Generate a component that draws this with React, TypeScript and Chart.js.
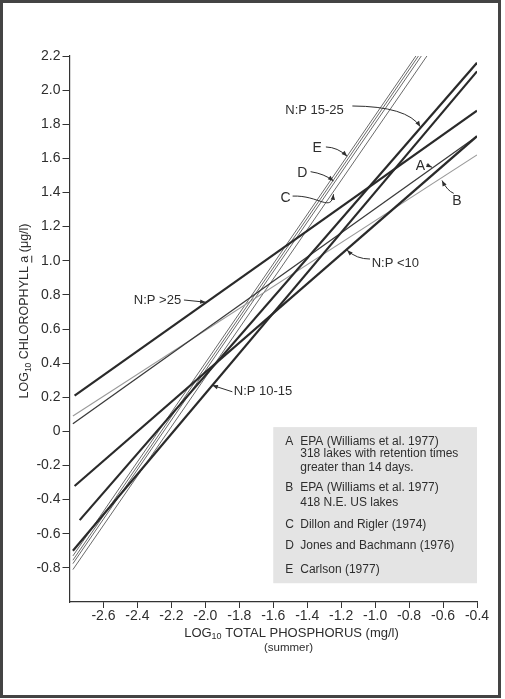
import React, { useEffect, useRef } from "react";
import { Chart, registerables } from "chart.js";

Chart.register(...registerables);

// ---- Axis ranges / ticks ----
const xMin = -2.8;
const xMax = -0.4;
const yMin = -1.0;
const yMax = 2.2;
const tickStep = 0.2;

// ---- Regression lines: [x, y] endpoints (log10 TP mg/l, log10 Chl a ug/l) ----
const npOver25: number[][] = [[-2.77, 0.21], [-0.4, 1.88]];
const np15to25: number[][] = [[-2.74, -0.52], [-0.4, 2.16]];
const np10to15: number[][] = [[-2.78, -0.7], [-0.4, 2.11]];
const npUnder10: number[][] = [[-2.77, -0.32], [-0.4, 1.73]];
const lineA: number[][] = [[-2.78, 0.045], [-0.4, 1.73]];
const lineB: number[][] = [[-2.78, 0.09], [-0.4, 1.62]];
const lineC: number[][] = [[-2.78, -0.81], [-0.695, 2.2]];
const lineD: number[][] = [[-2.78, -0.755], [-0.745, 2.2]];
const lineD2: number[][] = [[-2.78, -0.775], [-0.728, 2.2]];
const lineE: number[][] = [[-2.78, -0.73], [-0.76, 2.2]];

// ---- Annotation labels (data coords): label position and arrow path ----
const annLabels = ["N:P 15-25", "E", "D", "C", "A", "B", "N:P <10", "N:P >25", "N:P 10-15"];
const annLabelPos: number[][] = [
  [-1.357, 1.883],
  [-1.341, 1.659],
  [-1.429, 1.512],
  [-1.528, 1.366],
  [-0.733, 1.555],
  [-0.518, 1.352],
  [-0.881, 0.985],
  [-2.282, 0.77],
  [-1.66, 0.232],
];
const annPaths: number[][][] = [
  [[-1.134, 1.907], [-0.812, 1.905], [-0.734, 1.786]],
  [[-1.29, 1.667], [-1.22, 1.665], [-1.165, 1.612]],
  [[-1.38, 1.522], [-1.3, 1.51], [-1.245, 1.468]],
  [[-1.486, 1.379], [-1.33, 1.385], [-1.26, 1.28], [-1.245, 1.39]],
  [[-0.697, 1.562], [-0.665, 1.548]],
  [[-0.537, 1.395], [-0.575, 1.41], [-0.606, 1.47]],
  [[-1.03, 1.01], [-1.11, 1.01], [-1.165, 1.062]],
  [[-2.126, 0.77], [-1.998, 0.757]],
  [[-1.841, 0.232], [-1.959, 0.27]],
];

// ---- Key box ----
const keyBox: number[][] = [[-1.6, 0.025], [-0.4, -0.89]];
const keyLetters = ["A", "", "", "B", "", "C", "D", "E"];
const keyTexts = [
  "EPA (Williams et al. 1977)",
  "318 lakes with retention times",
  "greater than 14 days.",
  "EPA (Williams et al. 1977)",
  "418 N.E. US lakes",
  "Dillon and Rigler (1974)",
  "Jones and Bachmann (1976)",
  "Carlson (1977)",
];
const keyRowOffsets = [14.4, 26.7, 40.7, 61, 76, 97.7, 118.4, 142.7];

const FONT = '"Liberation Sans", Arial, sans-serif';
const INK = "#2e2e2e";

type Part = { t: string; size: number; dy?: number; italic?: boolean; underline?: boolean };

function drawRich(ctx: CanvasRenderingContext2D, parts: Part[], cx: number, cy: number) {
  let total = 0;
  const widths: number[] = [];
  for (const p of parts) {
    ctx.font = `${p.italic ? "italic " : ""}${p.size}px ${FONT}`;
    const w = ctx.measureText(p.t).width;
    widths.push(w);
    total += w;
  }
  let x = cx - total / 2;
  ctx.textAlign = "left";
  ctx.textBaseline = "middle";
  parts.forEach((p, i) => {
    ctx.font = `${p.italic ? "italic " : ""}${p.size}px ${FONT}`;
    ctx.fillText(p.t, x, cy + (p.dy || 0));
    if (p.underline) ctx.fillRect(x, cy + p.size * 0.5, widths[i], 1);
    x += widths[i];
  });
}

function arrowHead(ctx: CanvasRenderingContext2D, fx: number, fy: number, tx: number, ty: number, size = 6) {
  const ang = Math.atan2(ty - fy, tx - fx);
  ctx.beginPath();
  ctx.moveTo(tx, ty);
  ctx.lineTo(tx - size * Math.cos(ang - 0.38), ty - size * Math.sin(ang - 0.38));
  ctx.lineTo(tx - size * Math.cos(ang + 0.38), ty - size * Math.sin(ang + 0.38));
  ctx.closePath();
  ctx.fill();
}

const decorPlugin = {
  id: "decor",
  beforeDraw(chart: any) {
    const ctx: CanvasRenderingContext2D = chart.ctx;
    ctx.save();
    ctx.fillStyle = "#ffffff";
    ctx.fillRect(0, 0, chart.width, chart.height);
    ctx.restore();
  },
  afterDraw(chart: any) {
    const ctx: CanvasRenderingContext2D = chart.ctx;
    const xs = chart.scales.x;
    const ys = chart.scales.y;
    const px = (v: number) => xs.getPixelForValue(v);
    const py = (v: number) => ys.getPixelForValue(v);
    const area = chart.chartArea;
    ctx.save();

    // key box
    const bx0 = px(keyBox[0][0]);
    const by0 = py(keyBox[0][1]);
    const bx1 = px(keyBox[1][0]);
    const by1 = py(keyBox[1][1]);
    ctx.fillStyle = "#e4e4e4";
    ctx.fillRect(bx0, by0, bx1 - bx0, by1 - by0);
    ctx.fillStyle = INK;
    ctx.font = `12px ${FONT}`;
    ctx.textBaseline = "middle";
    ctx.textAlign = "left";
    keyTexts.forEach((t, i) => {
      const y = by0 + keyRowOffsets[i];
      if (keyLetters[i]) ctx.fillText(keyLetters[i], bx0 + 12, y);
      ctx.fillText(t, bx0 + 27, y);
    });

    // annotations
    ctx.strokeStyle = INK;
    ctx.fillStyle = INK;
    ctx.lineWidth = 1;
    annLabels.forEach((label, i) => {
      const [lx, ly] = annLabelPos[i];
      const single = label.length === 1;
      ctx.font = `${single ? 14 : 13}px ${FONT}`;
      ctx.textAlign = "center";
      ctx.textBaseline = "middle";
      ctx.fillText(label, px(lx), py(ly));
      const pts = annPaths[i].map(([a, b]) => [px(a), py(b)]);
      ctx.beginPath();
      ctx.moveTo(pts[0][0], pts[0][1]);
      if (pts.length === 2) ctx.lineTo(pts[1][0], pts[1][1]);
      else if (pts.length === 3) ctx.quadraticCurveTo(pts[1][0], pts[1][1], pts[2][0], pts[2][1]);
      else ctx.bezierCurveTo(pts[1][0], pts[1][1], pts[2][0], pts[2][1], pts[3][0], pts[3][1]);
      ctx.stroke();
      const n = pts.length;
      arrowHead(ctx, pts[n - 2][0], pts[n - 2][1], pts[n - 1][0], pts[n - 1][1], 6);
    });

    // axis titles
    ctx.fillStyle = INK;
    drawRich(
      ctx,
      [
        { t: "LOG", size: 13 },
        { t: "10", size: 9, dy: 4 },
        { t: " TOTAL PHOSPHORUS (mg/l)", size: 13 },
      ],
      area.left + 222,
      area.bottom + 31
    );
    drawRich(ctx, [{ t: "(summer)", size: 11.5 }], area.left + 219, area.bottom + 46);

    ctx.save();
    ctx.translate(25, 311);
    ctx.rotate(-Math.PI / 2);
    drawRich(
      ctx,
      [
        { t: "LOG", size: 12.5 },
        { t: "10", size: 8.5, dy: 4 },
        { t: " CHLOROPHYLL ", size: 12.5 },
        { t: "a", size: 12.5, underline: true },
        { t: " (\u03bcg/l)", size: 12.5 },
      ],
      0,
      0
    );
    ctx.restore();

    // outer frame
    ctx.strokeStyle = "#444";
    ctx.lineWidth = 3;
    ctx.strokeRect(1.5, 1.5, 498, 695);
    ctx.restore();
  },
};

const near = (a: number, b: number) => Math.abs(a - b) < 1e-6;
const fmt = (v: number) => (near(v, 0) ? "0" : Number(v).toFixed(1));

export default function App() {
  const ref = useRef<HTMLCanvasElement | null>(null);

  useEffect(() => {
    if (!ref.current) return;
    const toXY = (arr: number[][]) => arr.map(([x, y]) => ({ x, y }));
    const dark = "#2a2a2a";
    const mid = "#6a6a6a";
    const series = [
      { data: npOver25, color: dark, width: 2.2 },
      { data: np15to25, color: dark, width: 2.2 },
      { data: np10to15, color: dark, width: 2.2 },
      { data: npUnder10, color: dark, width: 2.2 },
      { data: lineA, color: "#3a3a3a", width: 1.3 },
      { data: lineB, color: "#9a9a9a", width: 1.1 },
      { data: lineC, color: mid, width: 1 },
      { data: lineD, color: mid, width: 1 },
      { data: lineD2, color: mid, width: 1 },
      { data: lineE, color: mid, width: 1 },
    ];
    const chart = new Chart(ref.current, {
      type: "scatter",
      data: {
        datasets: series.map((s) => ({
          data: toXY(s.data),
          showLine: true,
          borderColor: s.color,
          borderWidth: s.width,
          pointRadius: 0,
          fill: false,
        })),
      },
      options: {
        animation: false,
        responsive: false,
        devicePixelRatio: 1,
        layout: { padding: { top: 56, right: 28, left: 0, bottom: 0 } },
        plugins: { legend: { display: false }, tooltip: { enabled: false } },
        scales: {
          x: {
            type: "linear",
            min: xMin,
            max: xMax,
            afterFit: (s: any) => {
              s.height = 97;
            },
            border: { color: "#333", width: 1.2 },
            grid: {
              drawOnChartArea: false,
              drawTicks: true,
              tickLength: 6,
              color: (c: any) => (c.tick && near(c.tick.value, xMin) ? "rgba(0,0,0,0)" : "#333"),
            },
            ticks: {
              stepSize: tickStep,
              color: INK,
              padding: 0,
              maxRotation: 0,
              autoSkip: false,
              font: { family: FONT, size: 14 },
              callback: (v: any) => (near(Number(v), xMin) ? null : fmt(Number(v))),
            },
          },
          y: {
            type: "linear",
            min: yMin,
            max: yMax,
            afterFit: (s: any) => {
              s.width = 69.5;
            },
            border: { color: "#333", width: 1.2 },
            grid: {
              drawOnChartArea: false,
              drawTicks: true,
              tickLength: 7,
              color: (c: any) => (c.tick && near(c.tick.value, yMin) ? "rgba(0,0,0,0)" : "#333"),
            },
            ticks: {
              stepSize: tickStep,
              color: INK,
              padding: 2,
              autoSkip: false,
              font: { family: FONT, size: 14 },
              callback: (v: any) => (near(Number(v), yMin) ? null : fmt(Number(v))),
            },
          },
        },
      },
      plugins: [decorPlugin],
    } as any);
    return () => chart.destroy();
  }, []);

  return (
    <div style={{ position: "absolute", left: 0, top: 0, width: 505, height: 699, background: "#fff" }}>
      <canvas ref={ref} width={505} height={699} style={{ display: "block" }} />
    </div>
  );
}
